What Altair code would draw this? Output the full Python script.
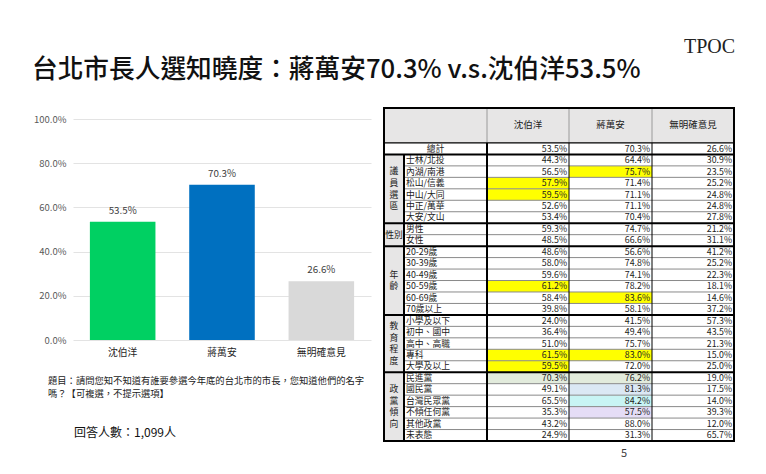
import altair as alt
import pandas as pd

FONT = "Noto Sans CJK TC"

# ---------------- data ----------------
bar_names = ["沈伯洋", "蔣萬安", "無明確意見"]
bar_values = [53.5, 70.3, 26.6]
y_ticks = [0, 20, 40, 60, 80, 100]

title_text = "台北市長人選知曉度：蔣萬安70.3% v.s.沈伯洋53.5%"
note_lines = ["題目：請問您知不知道有誰要參選今年底的台北市的市長，您知道他們的名字",
              "嗎？【可複選，不提示選項】"]
count_text = "回答人數：1,099人"
page_no = "5"
logo_text = "TPOC"

table_cols = ["沈伯洋", "蔣萬安", "無明確意見"]
total_label = "總計"
total_values = [53.5, 70.3, 26.6]

group_names = ["議員選區", "性別", "年齡", "教育程度", "政黨傾向"]
group_rows = [
    ["士林/北投", "內湖/南港", "松山/信義", "中山/大同", "中正/萬華", "大安/文山"],
    ["男性", "女性"],
    ["20-29歲", "30-39歲", "40-49歲", "50-59歲", "60-69歲", "70歲以上"],
    ["小學及以下", "初中、國中", "高中、高職", "專科", "大學及以上"],
    ["民進黨", "國民黨", "台灣民眾黨", "不傾任何黨", "其他政黨", "未表態"],
]
shen_values = [44.3, 56.5, 57.9, 59.5, 52.6, 53.4,
               59.3, 48.5,
               48.6, 58.0, 59.6, 61.2, 58.4, 39.8,
               24.0, 36.4, 51.0, 61.5, 59.5,
               70.3, 49.1, 65.5, 35.3, 43.2, 24.9]
chiang_values = [64.4, 75.7, 71.4, 71.1, 71.1, 70.4,
                 74.7, 66.6,
                 56.6, 74.8, 74.1, 78.2, 83.6, 58.1,
                 41.5, 49.4, 75.7, 83.0, 72.0,
                 76.2, 81.3, 84.2, 57.5, 88.0, 31.3]
none_values = [30.9, 23.5, 25.2, 24.8, 24.8, 27.8,
               21.2, 31.1,
               41.2, 25.2, 22.3, 18.1, 14.6, 37.2,
               57.3, 43.5, 21.3, 15.0, 25.0,
               19.0, 17.5, 14.0, 39.3, 12.0, 65.7]

highlights = [
    ("內湖/南港", "蔣萬安", "高"), ("松山/信義", "沈伯洋", "高"), ("中山/大同", "沈伯洋", "高"),
    ("50-59歲", "沈伯洋", "高"), ("60-69歲", "蔣萬安", "高"),
    ("專科", "沈伯洋", "高"), ("專科", "蔣萬安", "高"), ("大學及以上", "沈伯洋", "高"),
    ("民進黨", "沈伯洋", "民進黨"), ("民進黨", "蔣萬安", "民進黨"),
    ("國民黨", "蔣萬安", "國民黨"), ("台灣民眾黨", "蔣萬安", "台灣民眾黨"),
    ("不傾任何黨", "蔣萬安", "不傾任何黨"),
]

# ---------------- styles / layout ----------------
bar_colors = ["#00d062", "#0070c0", "#d9d9d9"]
hl_keys = ["高", "民進黨", "國民黨", "台灣民眾黨", "不傾任何黨"]
hl_colors = ["#ffff00", "#e2ebdc", "#dbe8f4", "#c8f4f4", "#e5ddf6"]

col_widths = [20, 83, 82, 83, 82]
col_edges = [0]
for w in col_widths:
    col_edges.append(col_edges[-1] + w)
W_T = col_edges[-1]
HEADER = 3.05
N_ROWS = 1 + sum(len(g) for g in group_rows)
H_T = 333
CHAR_STEP = 1.02
TFS = 8.8

# ---------------- bar chart ----------------
bar_df = pd.DataFrame({"name": bar_names, "value": bar_values})
xb = alt.X("name:N", sort=bar_names,
           scale=alt.Scale(paddingInner=0.34, paddingOuter=0.17),
           axis=alt.Axis(title=None, labelAngle=0, domain=False, ticks=False,
                         labelFontSize=9.8, labelColor="#262626", labelPadding=7,
                         labelFont=FONT))
yb = alt.Y("value:Q", scale=alt.Scale(domain=[0, 105], nice=False),
           axis=alt.Axis(title=None, values=y_ticks,
                         labelExpr="format(datum.value, '.1f') + '%'",
                         domain=False, ticks=False, gridColor="#e3e3e3",
                         labelFontSize=9.5, labelColor="#595959", labelPadding=7,
                         labelFont=FONT))
bars = alt.Chart(bar_df).mark_bar().encode(
    x=xb, y=yb,
    color=alt.Color("name:N", scale=alt.Scale(domain=bar_names, range=bar_colors), legend=None))
bar_labels = alt.Chart(bar_df).transform_calculate(
    lab="format(datum.value, '.1f') + '%'"
).mark_text(baseline="middle", dy=-11, fontSize=9.8, color="#404040", font=FONT).encode(
    x=alt.X("name:N", sort=bar_names), y="value:Q", text="lab:N")


def note(text_df, **kw):
    return alt.Chart(text_df).mark_text(align="left", baseline="middle", font=FONT, **kw)


title_layer = note(pd.DataFrame({"t": [title_text]}), fontSize=25.7, fontWeight=500,
                   color="#111111").encode(text="t:N", x=alt.value(-41), y=alt.value(-38))
note1 = note(pd.DataFrame({"t": [note_lines[0]]}), fontSize=9.3, color="#222222").encode(
    text="t:N", x=alt.value(-25), y=alt.value(273))
note2 = note(pd.DataFrame({"t": [note_lines[1]]}), fontSize=9.3, color="#222222").encode(
    text="t:N", x=alt.value(-25), y=alt.value(286))
count_layer = note(pd.DataFrame({"t": [count_text]}), fontSize=12, color="#111111").encode(
    text="t:N", x=alt.value(1), y=alt.value(325))
page_layer = note(pd.DataFrame({"t": [page_no]}), fontSize=11, color="#404040").encode(
    text="t:N", x=alt.value(548), y=alt.value(346))
logo_layer = alt.Chart(pd.DataFrame({"t": [logo_text]})).mark_text(
    align="left", baseline="middle", font="Liberation Serif", fontSize=20, color="#222222"
).encode(text="t:N", x=alt.value(611), y=alt.value(-61))

left = alt.layer(bars, bar_labels, title_layer, note1, note2, count_layer, page_layer,
                 logo_layer).properties(width=298, height=232)

# ---------------- table ----------------
xs = alt.Scale(domain=[0, W_T], nice=False, zero=False)
ys = alt.Scale(domain=[-HEADER, N_ROWS], nice=False, zero=False, reverse=True)


def TX(f):
    return alt.X(f, type="quantitative", scale=xs, axis=None)


def TY(f):
    return alt.Y(f, type="quantitative", scale=ys, axis=None)


sub_labels, row_idx = [], []
r = 1
group_spans = []
for gname, rows in zip(group_names, group_rows):
    group_spans.append((gname, r, r + len(rows)))
    for lab in rows:
        sub_labels.append(lab)
        row_idx.append(r)
        r += 1

series = [shen_values, chiang_values, none_values]
cell_recs = []
for ci, cname in enumerate(table_cols):
    x0, x1 = col_edges[2 + ci], col_edges[3 + ci]
    cell_recs.append({"row": 0, "x": x0, "x2": x1, "xr": x1 - 2,
                      "txt": f"{total_values[ci]:.1f}%", "hl": "無"})
    for lab, ri, v in zip(sub_labels, row_idx, series[ci]):
        hl = "無"
        for hlab, hcol, hk in highlights:
            if hlab == lab and hcol == cname:
                hl = hk
        cell_recs.append({"row": ri, "x": x0, "x2": x1, "xr": x1 - 2,
                          "txt": f"{v:.1f}%", "hl": hl})
cells = pd.DataFrame(cell_recs)
cells["y"] = cells["row"]
cells["y2"] = cells["row"] + 1
cells["ym"] = cells["row"] + 0.5

bg_df = pd.DataFrame([
    {"x": 0, "x2": W_T, "y": -HEADER, "y2": 0},
    {"x": 0, "x2": col_edges[1], "y": 1, "y2": N_ROWS},
])
bg = alt.Chart(bg_df).mark_rect(color="#e7e6e6").encode(
    x=TX("x"), x2="x2", y=TY("y"), y2="y2")

hl_layer = alt.Chart(cells).transform_filter("datum.hl != '無'").mark_rect().encode(
    x=TX("x"), x2="x2", y=TY("y"), y2="y2",
    color=alt.Color("hl:N", scale=alt.Scale(domain=hl_keys, range=hl_colors), legend=None))

group_breaks = [1] + [s[2] for s in group_spans[:-1]]
thin_h = [rr for (_, a, b) in group_spans for rr in range(a + 1, b)]
thin_df = pd.DataFrame({"y": thin_h, "x": col_edges[1], "x2": W_T})
thin_lines = alt.Chart(thin_df).mark_rule(color="#8a8a8a", strokeWidth=1).encode(
    x=TX("x"), x2="x2", y=TY("y"))
thick_df = pd.DataFrame({"y": group_breaks, "x": 0, "x2": W_T})
thick_lines = alt.Chart(thick_df).mark_rule(color="#000000", strokeWidth=2).encode(
    x=TX("x"), x2="x2", y=TY("y"))
hdr_line = alt.Chart(pd.DataFrame({"y": [0], "x": [0], "x2": [W_T]})).mark_rule(
    color="#000000", strokeWidth=1.2).encode(x=TX("x"), x2="x2", y=TY("y"))

v_thin_hdr = pd.DataFrame({"x": col_edges[2:5], "y": -HEADER, "y2": 0})
v_hdr = alt.Chart(v_thin_hdr).mark_rule(color="#9a9a9a", strokeWidth=1).encode(
    x=TX("x"), y=TY("y"), y2="y2")
v_body_thin = pd.DataFrame({"x": col_edges[3:5], "y": 0, "y2": N_ROWS})
v_body = alt.Chart(v_body_thin).mark_rule(color="#000000", strokeWidth=1).encode(
    x=TX("x"), y=TY("y"), y2="y2")
v_thick_df = pd.DataFrame({"x": [col_edges[1], col_edges[2]], "y": [1, 0], "y2": [N_ROWS, N_ROWS]})
v_thick = alt.Chart(v_thick_df).mark_rule(color="#000000", strokeWidth=2).encode(
    x=TX("x"), y=TY("y"), y2="y2")
border = alt.Chart(pd.DataFrame({"x": [0], "x2": [W_T], "y": [-HEADER], "y2": [N_ROWS]})).mark_rect(
    filled=False, stroke="#000000", strokeWidth=2).encode(x=TX("x"), x2="x2", y=TY("y"), y2="y2")

hdr_df = pd.DataFrame({"t": table_cols,
                       "x": [(col_edges[2 + i] + col_edges[3 + i]) / 2 for i in range(3)],
                       "y": -HEADER / 2})
hdr_text = alt.Chart(hdr_df).mark_text(baseline="middle", fontSize=9.5, color="#222222",
                                       font=FONT).encode(x=TX("x"), y=TY("y"), text="t:N")
val_text = alt.Chart(cells).mark_text(align="right", baseline="middle", fontSize=TFS,
                                      color="#222222", font=FONT).encode(
    x=TX("xr"), y=TY("ym"), text="txt:N")
lab_df = pd.DataFrame({"t": sub_labels, "y": [ri + 0.5 for ri in row_idx], "x": col_edges[1] + 2})
lab_text = alt.Chart(lab_df).mark_text(align="left", baseline="middle", fontSize=TFS,
                                       color="#222222", font=FONT).encode(
    x=TX("x"), y=TY("y"), text="t:N")
tot_df = pd.DataFrame({"t": [total_label], "x": [col_edges[2] / 2], "y": [0.5]})
tot_text = alt.Chart(tot_df).mark_text(baseline="middle", fontSize=TFS, color="#222222",
                                       font=FONT).encode(x=TX("x"), y=TY("y"), text="t:N")

grp_recs = []
for g, a, b in group_spans:
    center = (a + b) / 2
    if b - a <= 2:
        grp_recs.append({"t": g, "y": center})
    else:
        n = len(g)
        for i, ch in enumerate(g):
            grp_recs.append({"t": ch, "y": center + (i - (n - 1) / 2) * CHAR_STEP})
grp_df = pd.DataFrame(grp_recs)
grp_df["x"] = col_edges[1] / 2
grp_text = alt.Chart(grp_df).mark_text(baseline="middle", fontSize=TFS, color="#222222",
                                       font=FONT).encode(x=TX("x"), y=TY("y"), text="t:N")

table = alt.layer(bg, hl_layer, thin_lines, v_hdr, v_body, thick_lines, hdr_line, v_thick,
                  border, hdr_text, val_text, lab_text, tot_text, grp_text).properties(
    width=W_T, height=H_T)

chart = alt.hconcat(left, table, spacing=13, bounds="flush").properties(
    padding={"left": 24, "top": 29, "right": 5, "bottom": 5}
).configure_view(strokeWidth=0).resolve_scale(color="independent")

chart.save("out.html", embed_options={"renderer": "svg", "actions": False})
